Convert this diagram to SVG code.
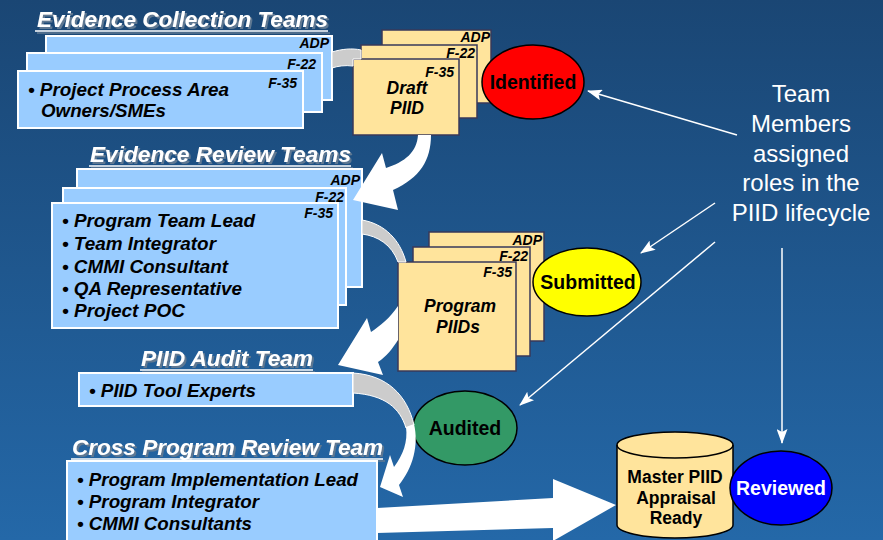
<svg xmlns="http://www.w3.org/2000/svg" width="883" height="540" viewBox="0 0 883 540">
<defs>
<linearGradient id="bg" x1="0" y1="0" x2="0" y2="1">
<stop offset="0" stop-color="#1a4674"/>
<stop offset="1" stop-color="#2468a8"/>
</linearGradient>
<filter id="shadow" x="-5%" y="-20%" width="115%" height="160%">
<feDropShadow dx="2" dy="2" stdDeviation="0.4" flood-color="#5f7892" flood-opacity="1"/>
</filter>
<marker id="ah" viewBox="0 0 15 11" refX="14" refY="5.5" markerWidth="15" markerHeight="11" markerUnits="userSpaceOnUse" orient="auto">
<path d="M0,0 L15,5.5 L0,11 L3,5.5 Z" fill="#ffffff"/>
</marker>
</defs>
<style>
text{font-family:"Liberation Sans",Arial,sans-serif;}
.title{font-size:22px;font-weight:bold;font-style:italic;fill:#ffffff;}
.uline{stroke:#ffffff;stroke-width:1.6;}
.blue{fill:#99ccff;stroke:#ffffff;stroke-width:2;}
.yel{fill:#ffe49c;stroke:#38385a;stroke-width:1.5;}
.lbl{font-size:14px;font-weight:bold;font-style:italic;fill:#000000;text-anchor:end;}
.item{font-size:18.5px;font-weight:bold;font-style:italic;fill:#000000;}
.doc{font-size:17.5px;font-weight:bold;font-style:italic;fill:#000000;text-anchor:middle;}
.st{font-size:19.5px;font-weight:bold;fill:#000000;text-anchor:middle;}
.ell{stroke:#000000;stroke-width:1.5;}
.gray{fill:#cccccc;stroke:#ffffff;stroke-width:1;}
.warrow{fill:#ffffff;}
.thin{stroke:#ffffff;stroke-width:1.5;fill:none;marker-end:url(#ah);}
.note{font-size:24px;fill:#ffffff;text-anchor:middle;}
</style>
<rect x="0" y="0" width="883" height="540" fill="url(#bg)"/>

<g id="evidence-collection-teams">
<g filter="url(#shadow)">
<text class="title" x="37" y="27" textLength="291" lengthAdjust="spacingAndGlyphs">Evidence Collection Teams</text>
<line class="uline" x1="35" y1="31" x2="328" y2="31"/>
</g>
<rect class="blue" x="46" y="36" width="286" height="64"/>
<rect class="blue" x="27" y="53" width="295" height="59"/>
<rect class="blue" x="18" y="71" width="285" height="57"/>
<text class="lbl" x="329" y="48">ADP</text>
<text class="lbl" x="316" y="69">F-22</text>
<text class="lbl" x="297" y="88">F-35</text>
<text class="item" x="28" y="96" textLength="201" lengthAdjust="spacingAndGlyphs">• Project Process Area</text>
<text class="item" x="41" y="117" textLength="125" lengthAdjust="spacingAndGlyphs">Owners/SMEs</text>
</g>

<g id="draft-piid">
<rect class="yel" x="382" y="30" width="109" height="73"/>
<rect class="yel" x="361" y="45" width="116" height="73"/>
<rect class="yel" x="353" y="59" width="106" height="76"/>
<text class="lbl" x="490" y="42">ADP</text>
<text class="lbl" x="475" y="58">F-22</text>
<text class="lbl" x="454" y="77">F-35</text>
<text class="doc" x="407" y="94">Draft</text>
<text class="doc" x="407" y="114">PIID</text>
</g>

<g id="identified">
<ellipse class="ell" cx="533" cy="82" rx="51" ry="37" fill="#ff0000"/>
<text class="st" x="533" y="89">Identified</text>
</g>

<g id="evidence-review-teams">
<g filter="url(#shadow)">
<text class="title" x="90" y="162" textLength="261" lengthAdjust="spacingAndGlyphs">Evidence Review Teams</text>
<line class="uline" x1="89" y1="166" x2="351" y2="166"/>
</g>
<rect class="blue" x="77" y="169" width="285" height="118"/>
<rect class="blue" x="63" y="188" width="283" height="117"/>
<rect class="blue" x="52" y="203" width="286" height="125"/>
<text class="lbl" x="360" y="185">ADP</text>
<text class="lbl" x="344" y="202">F-22</text>
<text class="lbl" x="333" y="218">F-35</text>
<text class="item" x="62" y="227" textLength="193" lengthAdjust="spacingAndGlyphs">• Program Team Lead</text>
<text class="item" x="62" y="250" textLength="154" lengthAdjust="spacingAndGlyphs">• Team Integrator</text>
<text class="item" x="62" y="273" textLength="166" lengthAdjust="spacingAndGlyphs">• CMMI Consultant</text>
<text class="item" x="62" y="295" textLength="180" lengthAdjust="spacingAndGlyphs">• QA Representative</text>
<text class="item" x="62" y="317" textLength="123" lengthAdjust="spacingAndGlyphs">• Project POC</text>
</g>

<g id="program-piids">
<rect class="yel" x="429" y="232" width="115" height="109"/>
<rect class="yel" x="413" y="247" width="117" height="109"/>
<rect class="yel" x="398" y="262" width="118" height="109"/>
<text class="lbl" x="542" y="245">ADP</text>
<text class="lbl" x="528" y="261">F-22</text>
<text class="lbl" x="512" y="277">F-35</text>
<text class="doc" x="460" y="312">Program</text>
<text class="doc" x="458" y="333">PIIDs</text>
</g>

<g id="submitted">
<ellipse class="ell" cx="587" cy="282" rx="54" ry="34" fill="#ffff00"/>
<text class="st" x="588" y="289">Submitted</text>
</g>

<g id="piid-audit-team">
<g filter="url(#shadow)">
<text class="title" x="141" y="366" textLength="172" lengthAdjust="spacingAndGlyphs">PIID Audit Team</text>
<line class="uline" x1="140" y1="370" x2="313" y2="370"/>
</g>
<rect class="blue" x="79" y="373" width="274" height="33"/>
<text class="item" x="89" y="397" textLength="167" lengthAdjust="spacingAndGlyphs">• PIID Tool Experts</text>
</g>

<g id="audited">
<ellipse class="ell" cx="465" cy="428" rx="52" ry="37" fill="#339966"/>
<text class="st" x="465" y="435">Audited</text>
</g>

<g id="cross-program-review-team">
<g filter="url(#shadow)">
<text class="title" x="72" y="455" textLength="311" lengthAdjust="spacingAndGlyphs">Cross Program Review Team</text>
<line class="uline" x1="71" y1="459" x2="383" y2="459"/>
</g>
<rect class="blue" x="67" y="461" width="310" height="82"/>
<text class="item" x="77" y="486" textLength="281" lengthAdjust="spacingAndGlyphs">• Program Implementation Lead</text>
<text class="item" x="77" y="508" textLength="182" lengthAdjust="spacingAndGlyphs">• Program Integrator</text>
<text class="item" x="77" y="530" textLength="175" lengthAdjust="spacingAndGlyphs">• CMMI Consultants</text>
</g>

<g id="master-piid">
<path d="M617,445 L617,525 A58,13 0 0 0 733,525 L733,445 A58,13 0 0 0 617,445 Z" fill="#ffe49c" stroke="#000000" stroke-width="1.5"/>
<path d="M617,445 A58,13 0 0 0 733,445" fill="none" stroke="#000000" stroke-width="1.5"/>
<text class="st" x="675" y="483" style="font-size:17.5px">Master PIID</text>
<text class="st" x="676" y="504" style="font-size:17.5px">Appraisal</text>
<text class="st" x="676" y="524" style="font-size:17.5px">Ready</text>
</g>

<g id="reviewed">
<ellipse class="ell" cx="781" cy="488" rx="51" ry="37" fill="#0000ff"/>
<text class="st" x="781" y="495" style="fill:#ffffff">Reviewed</text>
</g>

<g id="team-members-note">
<text class="note" x="801" y="102">Team</text>
<text class="note" x="801" y="132">Members</text>
<text class="note" x="801" y="162">assigned</text>
<text class="note" x="801" y="191">roles in the</text>
<text class="note" x="801" y="221">PIID lifecycle</text>
</g>

<g id="connectors">
<path class="gray" d="M332,52 C342,49 352,48 361,50 L361,59 L353,59 L353,66 C345,65 338,66 332,68 Z"/>
<path class="warrow" d="M418,135 C417,152 405,162 386,168 L382,153 L353,200 L398,210 L393,190 C420,178 431,160 431,135 Z"/>
<path class="gray" d="M362,220 C385,224 400,240 406,262 L398,262 C392,245 378,236 362,234 Z"/>
<path class="warrow" d="M398,306 C390,318 380,326 371,332 L367,318 L338,365 L383,375 L378,362 C386,357 393,348 398,340 Z"/>
<path class="gray" d="M353,373 C387,375 407,395 414,425 L406,428 C400,408 385,395 353,393 Z"/>
<path class="warrow" d="M406,427 L414,424 C419,445 413,468 399,485 L403,497 L380,487 L390,455 L394,467 C403,455 408,442 406,427 Z"/>
<path class="warrow" d="M377,508 L553,498 L553,479 L616,505 L553,541 L553,528 L377,533 Z"/>
<line class="thin" x1="737" y1="135" x2="588" y2="91"/>
<line class="thin" x1="715" y1="203" x2="641" y2="253"/>
<line class="thin" x1="715" y1="242" x2="520" y2="405"/>
<line class="thin" x1="782" y1="248" x2="782" y2="443"/>
</g>
</svg>
